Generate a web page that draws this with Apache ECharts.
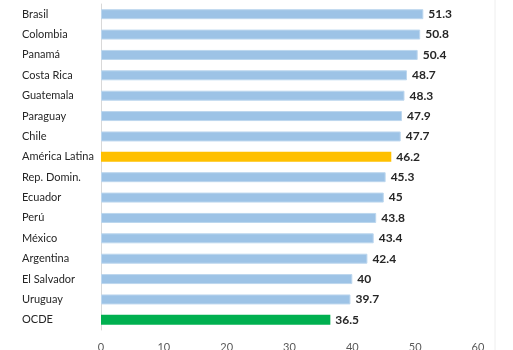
<!DOCTYPE html>
<html><head><meta charset="utf-8">
<script src="https://cdn.jsdelivr.net/npm/echarts@6/dist/echarts.min.js"></script>
<style>html,body{margin:0;padding:0;background:#fff}#c{width:513px;height:350px}</style>
</head><body><div id="c"></div>
<script>
var categories = ["Brasil","Colombia","Panamá","Costa Rica","Guatemala","Paraguay","Chile","América Latina","Rep. Domin.","Ecuador","Perú","México","Argentina","El Salvador","Uruguay","OCDE"];
var values = [51.3,50.8,50.4,48.7,48.3,47.9,47.7,46.2,45.3,45,43.8,43.4,42.4,40,39.7,36.5];
var xTicks = [0,10,20,30,40,50,60];
var highlight = {"América Latina":"#FFC000","OCDE":"#00B050"};

var chart = echarts.init(document.getElementById('c'));
chart.setOption({
  animation:false,
  grid:{left:101,right:35,top:4,bottom:20,containLabel:false,outerBoundsMode:'none'},
  xAxis:{type:'value',min:xTicks[0],max:xTicks[xTicks.length-1],interval:10,
    axisLine:{show:false},axisTick:{show:false},splitLine:{show:false},
    axisLabel:{color:'#595959',fontSize:11,fontFamily:'Lato',margin:12}},
  yAxis:{type:'category',data:categories,inverse:true,
    axisLine:{show:true,lineStyle:{color:'#d9d9d9'}},axisTick:{show:false},
    axisLabel:{color:'#262626',fontSize:11,fontFamily:'Lato',align:'left',margin:79}},
  graphic:[{type:'line',shape:{x1:495,y1:0,x2:495,y2:350},style:{stroke:'#eeeeee',lineWidth:1}}],
  series:[{type:'bar',barWidth:10,
    data:values.map(function(v,i){
      var c = highlight[categories[i]];
      return {value:v,itemStyle:c?{color:c}:{color:'#9DC3E6',borderColor:'#BDD7EE',borderWidth:1}};
    }),
    label:{show:true,position:'right',distance:5,color:'#262626',fontSize:12,fontWeight:'bold',fontFamily:'Lato'}}]
});
</script></body></html>
